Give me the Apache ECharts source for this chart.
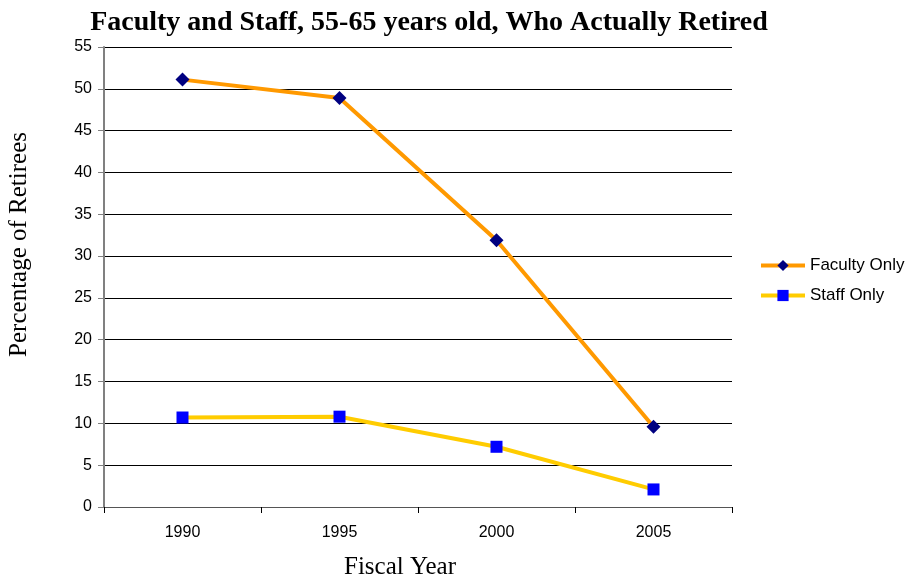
<!DOCTYPE html>
<html>
<head>
<meta charset="utf-8">
<script src="https://cdn.jsdelivr.net/npm/echarts@6/dist/echarts.min.js"></script>
<style>
  html, body { margin: 0; padding: 0; background: #fff; }
  #chart { width: 907px; height: 582px; }
</style>
</head>
<body>
<div id="chart"></div>
<script>
  var years = ['1990', '1995', '2000', '2005'];
  var facultyOnly = [51.1, 48.9, 31.9, 9.6];
  var staffOnly = [10.7, 10.8, 7.2, 2.1];

  var myChart = echarts.init(document.getElementById('chart'));
  var serif = '"Liberation Serif", "DejaVu Serif", serif';
  var sans = '"Liberation Sans", Arial, sans-serif';

  var option = {
    animation: false,
    backgroundColor: '#fff',
    title: {
      text: 'Faculty and Staff, 55-65 years old, Who Actually Retired',
      left: 424,
      textAlign: 'center',
      top: 4,
      textStyle: { fontFamily: serif, fontSize: 28, fontWeight: 'bold', color: '#000' }
    },
    grid: { left: 104, right: 175, top: 47, bottom: 75 },
    legend: {
      orient: 'vertical',
      left: 754,
      top: 252,
      itemWidth: 44,
      itemHeight: 14,
      itemGap: 13,
      lineStyle: { width: 4 },
      textStyle: { fontFamily: sans, fontSize: 17, color: '#000' },
      data: ['Faculty Only', 'Staff Only']
    },
    graphic: [
      {
        type: 'text',
        left: 7,
        top: 132,
        rotation: Math.PI / 2,
        style: { text: 'Percentage of Retirees', font: '25px ' + serif, fill: '#000' }
      },
      {
        type: 'text',
        left: 344,
        top: 555,
        style: { text: 'Fiscal Year', font: '25px ' + serif, fill: '#000' }
      }
    ],
    xAxis: {
      type: 'category',
      data: years,
      boundaryGap: true,
      axisLine: { lineStyle: { color: '#555', width: 1 } },
      axisTick: { show: true, length: 6, alignWithLabel: false, lineStyle: { color: '#000' } },
      axisLabel: { fontFamily: sans, fontSize: 16, color: '#000', margin: 18 }
    },
    yAxis: {
      type: 'value',
      min: 0,
      max: 55,
      interval: 5,
      axisLine: { show: true, lineStyle: { color: '#808080', width: 2 } },
      axisTick: { show: true, length: 6, lineStyle: { color: '#808080' } },
      axisLabel: { fontFamily: sans, fontSize: 16, color: '#000', margin: 12 },
      splitLine: { show: true, lineStyle: { color: '#000', width: 1 } }
    },
    series: [
      {
        name: 'Faculty Only',
        type: 'line',
        data: facultyOnly,
        symbol: 'diamond',
        symbolSize: 14,
        lineStyle: { color: '#FF9900', width: 4 },
        itemStyle: { color: '#000080' }
      },
      {
        name: 'Staff Only',
        type: 'line',
        data: staffOnly,
        symbol: 'rect',
        symbolSize: 12,
        lineStyle: { color: '#FFCC00', width: 4 },
        itemStyle: { color: '#0000FF' }
      }
    ]
  };
  myChart.setOption(option);
</script>
</body>
</html>
